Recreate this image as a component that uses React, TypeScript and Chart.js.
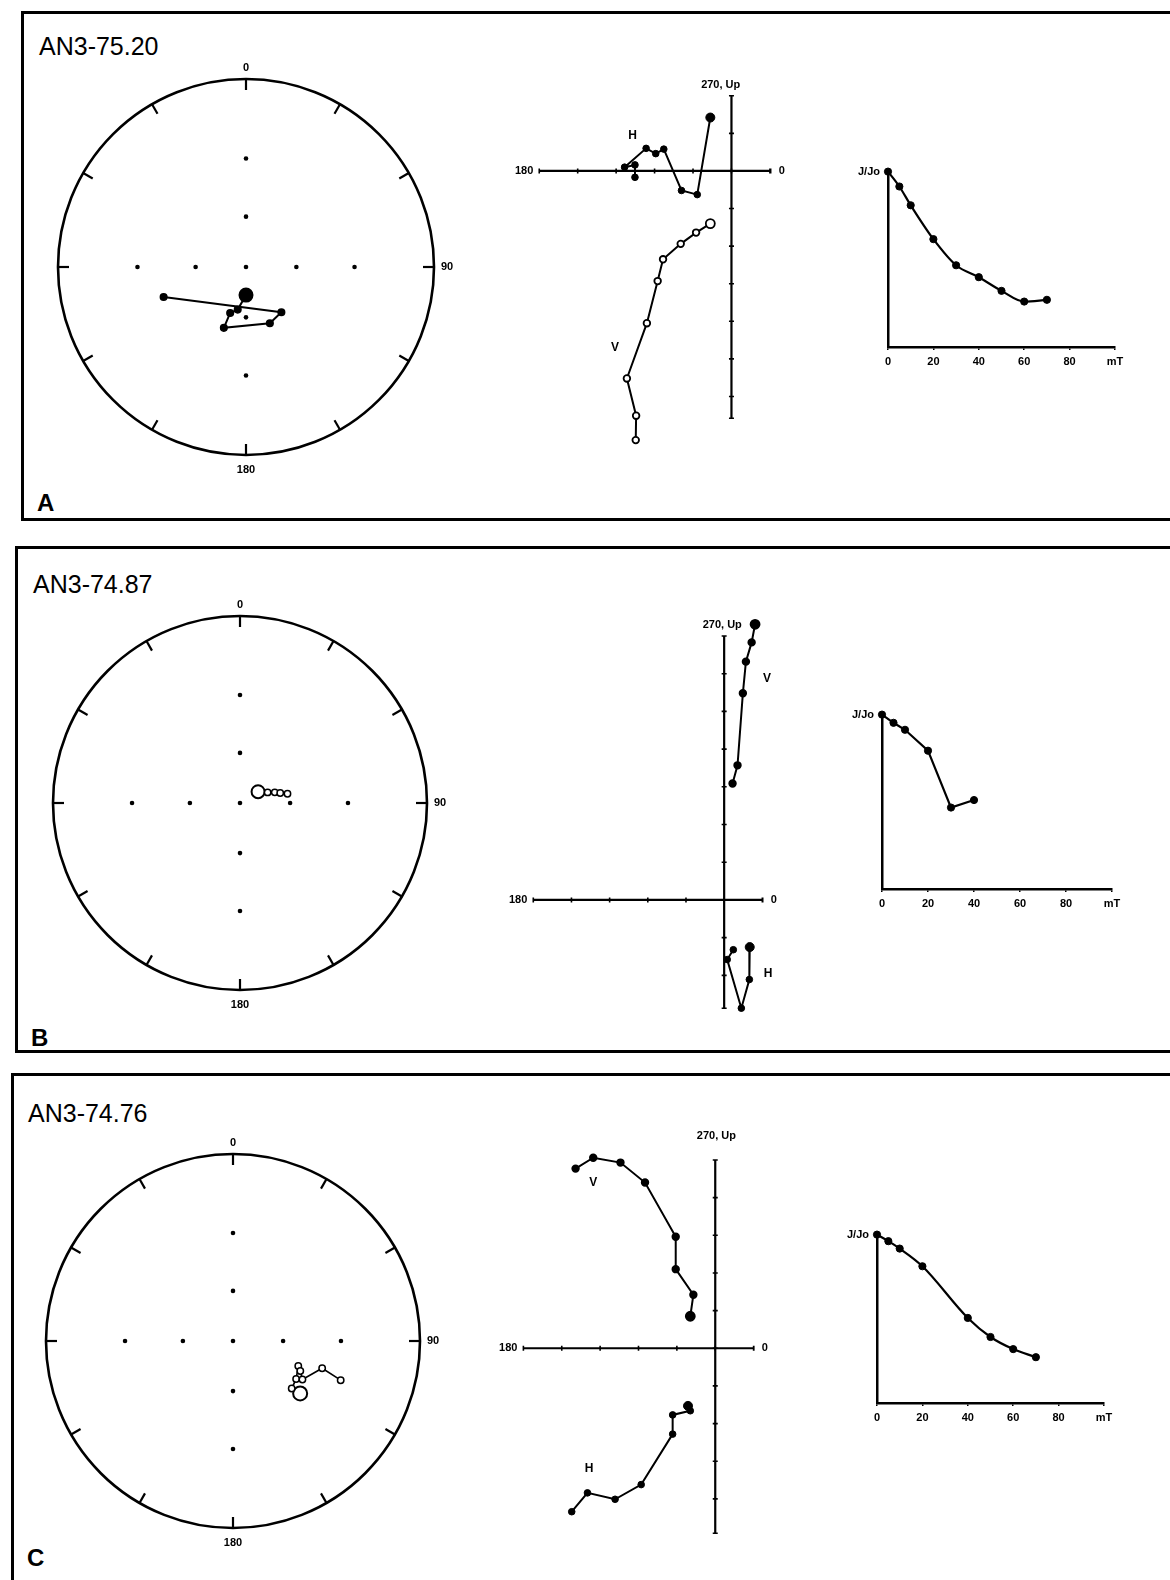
import React, { useEffect, useRef } from "react";
import { Chart, registerables } from "chart.js";

Chart.register(...registerables);

const FONT = '"Liberation Sans", Helvetica, Arial, sans-serif';

// ---------------- data ----------------
const panelTitles = ["AN3-75.20", "AN3-74.87", "AN3-74.76"];
const panelLetters = ["A", "B", "C"];

// stereonet reference grid (dots along the cardinal directions) and rim ticks
const gridDeclinations = [0, 90, 180, 270];
const gridInclinations = [60, 30];
const stereoTickAzimuths = [0, 30, 60, 90, 120, 150, 180, 210, 240, 270, 300, 330];
const stereoLabels = ["0", "90", "180"];

// Zijderveld axis labels
const zijAxisLabels = ["180", "0", "270, Up"];
const zijSeriesNames = ["H", "V"];

// demagnetisation curve axis labels
const decayXTicks = [0, 20, 40, 60, 80];
const decayXUnit = "mT";
const decayYLabel = "J/Jo";

// ---- Panel A : AN3-75.20 ----
const aStereoDec = [180, 191, 199, 200, 157, 142, 250];
const aStereoInc = [73, 64, 61, 52, 54, 56, 40];
const aHorizX = [-0.55, -0.89, -1.3, -1.76, -1.97, -2.22, -2.78, -2.51, -2.51];
const aHorizY = [1.42, -0.63, -0.52, 0.58, 0.46, 0.6, 0.1, 0.16, -0.17];
const aVertX = [-0.55, -0.92, -1.32, -1.78, -1.92, -2.2, -2.72, -2.48, -2.49];
const aVertY = [-1.4, -1.64, -1.94, -2.35, -2.93, -4.05, -5.52, -6.51, -7.16];
const aField = [0, 5, 10, 20, 30, 40, 50, 60, 70];
const aJ = [1.0, 0.915, 0.808, 0.615, 0.466, 0.398, 0.32, 0.259, 0.269];

// ---- Panel B : AN3-74.87 ----
const bStereoDec = [58, 69, 73, 76, 79];
const bStereoInc = [-77, -72, -68, -65, -61];
const bHorizX = [0.67, 0.66, 0.45, 0.08, 0.24];
const bHorizY = [-1.25, -2.11, -2.87, -1.58, -1.32];
const bVertX = [0.81, 0.72, 0.57, 0.49, 0.35, 0.22];
const bVertY = [7.31, 6.83, 6.32, 5.48, 3.57, 3.09];
const bField = [0, 5, 10, 20, 30, 40];
const bJ = [1.0, 0.953, 0.913, 0.793, 0.467, 0.51];

// ---- Panel C : AN3-74.76 ----
const cStereoDec = [128, 129, 121, 111, 114, 119, 107, 110];
const cStereoInc = [-41, -46, -47, -49, -47, -44, -37, -27];
const cHorizX = [-0.71, -0.65, -1.11, -1.11, -1.93, -2.61, -3.33, -3.74];
const cHorizY = [-1.53, -1.66, -1.77, -2.28, -3.62, -4.01, -3.84, -4.34];
const cVertX = [-0.65, -0.57, -1.03, -1.03, -1.83, -2.47, -3.18, -3.64];
const cVertY = [0.85, 1.42, 2.1, 2.96, 4.4, 4.93, 5.06, 4.77];
const cField = [0, 5, 10, 20, 40, 50, 60, 70];
const cJ = [1.0, 0.961, 0.917, 0.812, 0.505, 0.392, 0.32, 0.272];

// ---------------- layout (page pixels) ----------------
const panels = [
  {
    box: { left: 21, top: 11, height: 510 },
    title: { left: 39, top: 34 },
    letter: { left: 37, top: 491 },
    stereo: { cx: 246, cy: 267, R: 188, dec: aStereoDec, inc: aStereoInc, big: 6.5, small: 3.3, lw: 2 },
    zij: {
      ox: 734.3, oy: 168.4, ux: 39.87, uy: 38.7,
      xmin: -5, xmax: 1.02, ymin: -6.58, ymax: 2.0,
      hx: aHorizX, hy: aHorizY, vx: aVertX, vy: aVertY, vOpen: true,
      upLabel: [-0.28, 2.28], hLabel: [-2.57, 0.95], vLabel: [-3.03, -4.69],
    },
    decay: { area: { left: 888, top: 169, right: 1115, bottom: 347 }, f: aField, j: aJ, smooth: true },
  },
  {
    box: { left: 15, top: 546, height: 507 },
    title: { left: 33, top: 572 },
    letter: { left: 31, top: 1026 },
    stereo: { cx: 240, cy: 803, R: 187, dec: bStereoDec, inc: bStereoInc, big: 6.5, small: 3.2, lw: 1.5 },
    zij: {
      ox: 727, oy: 902, ux: 39.6, uy: 38.7,
      xmin: -5, xmax: 1.01, ymin: -2.87, ymax: 7.0,
      hx: bHorizX, hy: bHorizY, vx: bVertX, vy: bVertY, vOpen: false,
      upLabel: [-0.05, 7.29], hLabel: [1.15, -1.96], vLabel: [1.12, 5.87],
    },
    decay: { area: { left: 882, top: 712, right: 1112, bottom: 889 }, f: bField, j: bJ, smooth: false },
  },
  {
    box: { left: 11, top: 1073, height: 600 },
    title: { left: 28, top: 1101 },
    letter: { left: 27, top: 1546 },
    stereo: { cx: 233, cy: 1341, R: 187, dec: cStereoDec, inc: cStereoInc, big: 7, small: 3.2, lw: 1.6 },
    zij: {
      ox: 718.1, oy: 1348.3, ux: 39.8, uy: 38.65,
      xmin: -5, xmax: 1.005, ymin: -4.91, ymax: 5.0,
      hx: cHorizX, hy: cHorizY, vx: cVertX, vy: cVertY, vOpen: false,
      upLabel: [0.03, 5.63], hLabel: [-3.29, -3.19], vLabel: [-3.18, 4.4],
    },
    decay: { area: { left: 877, top: 1232, right: 1104, bottom: 1403 }, f: cField, j: cJ, smooth: true },
  },
];

// ---------------- helpers ----------------
const rad = Math.PI / 180;
function project(dec: number, inc: number) {
  // equal-angle (Wulff) projection
  const r = Math.tan(((90 - Math.abs(inc)) / 2) * rad);
  return { x: r * Math.sin(dec * rad), y: r * Math.cos(dec * rad) };
}

const baseOptions = {
  responsive: false,
  animation: false as const,
  devicePixelRatio: 1,
  events: [] as any[],
  plugins: { legend: { display: false }, tooltip: { enabled: false }, title: { display: false } },
};

function ChartCanvas({ left, top, width, height, make }: any) {
  const ref = useRef<HTMLCanvasElement>(null);
  useEffect(() => {
    const chart = new Chart(ref.current as HTMLCanvasElement, make());
    return () => chart.destroy();
  }, []);
  return (
    <canvas
      ref={ref}
      width={width}
      height={height}
      style={{ position: "absolute", left, top, width, height }}
    />
  );
}

// ---------------- stereonet ----------------
const SP = 30;
function stereoConfig(st: any) {
  const gridPts = [{ x: 0, y: 0 }];
  gridDeclinations.forEach((d) => gridInclinations.forEach((i) => gridPts.push(project(d, i))));
  const pts = st.dec.map((d: number, i: number) => project(d, st.inc[i]));
  const filled = st.inc.map((v: number) => v >= 0);
  const frame = {
    id: "stereoFrame",
    beforeDatasetsDraw(chart: any) {
      const { ctx, scales } = chart;
      const cx = scales.x.getPixelForValue(0);
      const cy = scales.y.getPixelForValue(0);
      const R = scales.x.getPixelForValue(1) - cx;
      ctx.save();
      ctx.strokeStyle = "#000";
      ctx.lineWidth = 2.6;
      ctx.beginPath();
      ctx.arc(cx, cy, R, 0, Math.PI * 2);
      ctx.stroke();
      ctx.lineWidth = 2.2;
      stereoTickAzimuths.forEach((az) => {
        const s = Math.sin(az * rad);
        const c = Math.cos(az * rad);
        ctx.beginPath();
        ctx.moveTo(cx + s * R, cy - c * R);
        ctx.lineTo(cx + s * (R - 11), cy - c * (R - 11));
        ctx.stroke();
      });
      ctx.fillStyle = "#000";
      ctx.font = `bold 11px ${FONT}`;
      ctx.textBaseline = "middle";
      ctx.textAlign = "center";
      ctx.fillText(stereoLabels[0], cx, cy - R - 11);
      ctx.textAlign = "left";
      ctx.fillText(stereoLabels[1], cx + R + 7, cy);
      ctx.textAlign = "center";
      ctx.fillText(stereoLabels[2], cx, cy + R + 15);
      ctx.restore();
    },
  };
  return {
    type: "scatter",
    data: {
      datasets: [
        {
          data: gridPts,
          showLine: false,
          pointRadius: 2.3,
          pointBackgroundColor: "#000",
          pointBorderWidth: 0,
        },
        {
          data: pts,
          showLine: true,
          borderColor: "#000",
          borderWidth: st.lw,
          pointRadius: pts.map((_: any, i: number) => (i === 0 ? st.big : st.small)),
          pointBackgroundColor: filled.map((f: boolean) => (f ? "#000" : "#fff")),
          pointBorderColor: "#000",
          pointBorderWidth: pts.map((_: any, i: number) => (i === 0 ? 2 : 1.5)),
          clip: false,
        },
      ],
    },
    options: {
      ...baseOptions,
      layout: { padding: SP },
      scales: {
        x: { type: "linear", min: -1, max: 1, display: false },
        y: { type: "linear", min: -1, max: 1, display: false },
      },
    },
    plugins: [frame],
  };
}

// ---------------- Zijderveld ----------------
const ZEXT = 1.4; // extra room (in axis units) around the drawn axes
function zijBox(z: any) {
  const left = Math.floor(z.ox + (z.xmin - ZEXT) * z.ux);
  const right = Math.ceil(z.ox + (z.xmax + ZEXT) * z.ux);
  const top = Math.floor(z.oy - (z.ymax + ZEXT) * z.uy);
  const bottom = Math.ceil(z.oy - (z.ymin - ZEXT) * z.uy);
  return {
    left,
    top,
    width: right - left,
    height: bottom - top,
    sxmin: (left - z.ox) / z.ux,
    sxmax: (right - z.ox) / z.ux,
    symax: (z.oy - top) / z.uy,
    symin: (z.oy - bottom) / z.uy,
  };
}
function zijConfig(z: any, b: any) {
  const axes = {
    id: "zijAxes",
    beforeDatasetsDraw(chart: any) {
      const { ctx, scales } = chart;
      const px = (v: number) => scales.x.getPixelForValue(v);
      const py = (v: number) => scales.y.getPixelForValue(v);
      const x0 = px(0);
      const y0 = py(0);
      ctx.save();
      ctx.strokeStyle = "#000";
      ctx.lineWidth = 2.2;
      ctx.beginPath();
      ctx.moveTo(px(z.xmin), y0);
      ctx.lineTo(px(z.xmax), y0);
      ctx.moveTo(x0, py(z.ymax));
      ctx.lineTo(x0, py(z.ymin));
      ctx.stroke();
      ctx.lineWidth = 1.6;
      const xt = scales.x.ticks.map((t: any) => t.value).filter((v: number) => v >= z.xmin - 1e-6 && v <= z.xmax + 1e-6);
      const yt = scales.y.ticks.map((t: any) => t.value).filter((v: number) => v >= z.ymin - 1e-6 && v <= z.ymax + 1e-6);
      ctx.beginPath();
      [...xt, z.xmin, z.xmax].forEach((v: number) => {
        ctx.moveTo(px(v), y0 - 2.5);
        ctx.lineTo(px(v), y0 + 2.5);
      });
      [...yt, z.ymin, z.ymax].forEach((v: number) => {
        ctx.moveTo(x0 - 2.5, py(v));
        ctx.lineTo(x0 + 2.5, py(v));
      });
      ctx.stroke();
      ctx.fillStyle = "#000";
      ctx.font = `bold 11px ${FONT}`;
      ctx.textBaseline = "middle";
      ctx.textAlign = "right";
      ctx.fillText(zijAxisLabels[0], px(z.xmin) - 6, y0);
      ctx.textAlign = "left";
      ctx.fillText(zijAxisLabels[1], px(z.xmax) + 8, y0);
      ctx.textAlign = "center";
      ctx.fillText(zijAxisLabels[2], px(z.upLabel[0]), py(z.upLabel[1]));
      ctx.font = `bold 12px ${FONT}`;
      ctx.fillText(zijSeriesNames[0], px(z.hLabel[0]), py(z.hLabel[1]));
      ctx.fillText(zijSeriesNames[1], px(z.vLabel[0]), py(z.vLabel[1]));
      ctx.restore();
    },
  };
  const hPts = z.hx.map((x: number, i: number) => ({ x, y: z.hy[i] }));
  const vPts = z.vx.map((x: number, i: number) => ({ x, y: z.vy[i] }));
  return {
    type: "scatter",
    data: {
      datasets: [
        {
          data: hPts,
          showLine: true,
          borderColor: "#000",
          borderWidth: 2,
          pointRadius: hPts.map((_: any, i: number) => (i === 0 ? 4.5 : 3.3)),
          pointBackgroundColor: "#000",
          pointBorderColor: "#000",
          pointBorderWidth: 1,
        },
        {
          data: vPts,
          showLine: true,
          borderColor: "#000",
          borderWidth: 2,
          pointRadius: vPts.map((_: any, i: number) => (i === 0 ? 4.5 : 3.3)),
          pointBackgroundColor: z.vOpen ? "#fff" : "#000",
          pointBorderColor: "#000",
          pointBorderWidth: 1.8,
        },
      ],
    },
    options: {
      ...baseOptions,
      layout: { padding: 0 },
      scales: {
        x: { type: "linear", min: b.sxmin, max: b.sxmax, display: false, ticks: { stepSize: 1 } },
        y: { type: "linear", min: b.symin, max: b.symax, display: false, ticks: { stepSize: 1 } },
      },
    },
    plugins: [axes],
  };
}

// ---------------- decay curve ----------------
const DP = { left: 0, right: 22, top: 12, bottom: 0, yAxisW: 45, xAxisH: 30 };
function decayConfig(d: any) {
  const pts = d.f.map((f: number, i: number) => ({ x: f, y: d.j[i] }));
  return {
    type: "scatter",
    data: {
      datasets: [
        {
          data: pts,
          showLine: true,
          borderColor: "#000",
          borderWidth: 2.2,
          pointRadius: 3.6,
          pointBackgroundColor: "#000",
          pointBorderColor: "#000",
          pointBorderWidth: 1,
          cubicInterpolationMode: d.smooth ? "monotone" : "default",
          tension: 0,
          clip: false,
        },
      ],
    },
    options: {
      ...baseOptions,
      layout: { padding: { left: DP.left, right: DP.right, top: DP.top, bottom: DP.bottom } },
      scales: {
        x: {
          type: "linear",
          position: "bottom",
          min: 0,
          max: 100,
          afterFit: (s: any) => {
            s.height = DP.xAxisH;
          },
          ticks: {
            stepSize: 20,
            autoSkip: false,
            maxRotation: 0,
            padding: 5,
            color: "#000",
            font: { family: FONT, size: 11, weight: "bold" },
            callback: (v: number) =>
              v === 100 ? decayXUnit : decayXTicks.includes(v) ? String(v) : "",
          },
          grid: { drawOnChartArea: false, drawTicks: true, tickLength: 3, color: "#000", lineWidth: 1.5 },
          border: { display: true, color: "#000", width: 2.5 },
        },
        y: {
          type: "linear",
          position: "left",
          min: 0,
          max: 1,
          afterFit: (s: any) => {
            s.width = DP.yAxisW;
          },
          ticks: {
            stepSize: 0.2,
            autoSkip: false,
            padding: 8,
            color: "#000",
            font: { family: FONT, size: 11, weight: "bold" },
            callback: (v: number) => (Math.abs(v - 1) < 1e-9 ? decayYLabel : ""),
          },
          grid: { drawOnChartArea: false, drawTicks: false, color: "#000" },
          border: { display: true, color: "#000", width: 2.5 },
        },
      },
    },
  };
}

// ---------------- page ----------------
function Panel({ p, idx }: any) {
  const st = p.stereo;
  const sLeft = st.cx - st.R - SP;
  const sTop = st.cy - st.R - SP;
  const sSize = 2 * st.R + 2 * SP;

  const zb = zijBox(p.zij);

  const da = p.decay.area;
  const dLeft = da.left - DP.left - DP.yAxisW;
  const dTop = da.top - DP.top;
  const dW = da.right - da.left + DP.left + DP.yAxisW + DP.right;
  const dH = da.bottom - da.top + DP.top + DP.xAxisH + DP.bottom;

  return (
    <>
      <div
        style={{
          position: "absolute",
          left: p.box.left,
          top: p.box.top,
          width: 1200,
          height: p.box.height,
          border: "3px solid #000",
          boxSizing: "border-box",
        }}
      />
      <div
        style={{
          position: "absolute",
          left: p.title.left,
          top: p.title.top,
          fontFamily: FONT,
          fontSize: 25,
          lineHeight: "25px",
          color: "#000",
          whiteSpace: "nowrap",
        }}
      >
        {panelTitles[idx]}
      </div>
      <div
        style={{
          position: "absolute",
          left: p.letter.left,
          top: p.letter.top,
          fontFamily: FONT,
          fontSize: 24,
          fontWeight: "bold",
          lineHeight: "24px",
          color: "#000",
        }}
      >
        {panelLetters[idx]}
      </div>
      <ChartCanvas left={sLeft} top={sTop} width={sSize} height={sSize} make={() => stereoConfig(st)} />
      <ChartCanvas left={zb.left} top={zb.top} width={zb.width} height={zb.height} make={() => zijConfig(p.zij, zb)} />
      <ChartCanvas left={dLeft} top={dTop} width={dW} height={dH} make={() => decayConfig(p.decay)} />
    </>
  );
}

export default function App() {
  return (
    <div
      style={{
        position: "absolute",
        left: 0,
        top: 0,
        width: 1170,
        height: 1580,
        overflow: "hidden",
        background: "#fff",
      }}
    >
      {panels.map((p, i) => (
        <Panel key={i} p={p} idx={i} />
      ))}
    </div>
  );
}
